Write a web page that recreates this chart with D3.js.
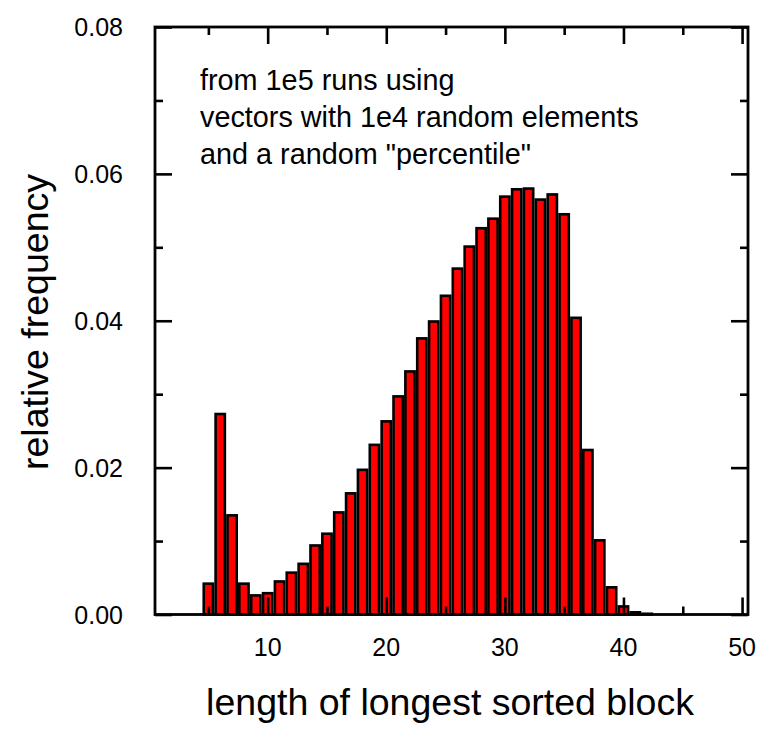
<!DOCTYPE html>
<html>
<head>
<meta charset="utf-8">
<script src="https://cdn.jsdelivr.net/npm/d3@7"></script>
<style>
  html, body { margin: 0; padding: 0; background: #fff; }
  svg text { font-family: "Liberation Sans", Arial, sans-serif; fill: #000; }
</style>
</head>
<body>
<svg id="chart" width="762" height="730"></svg>
<script>
// ---- data ----
const blockLength = [5,6,7,8,9,10,11,12,13,14,15,16,17,18,19,20,21,22,23,24,25,26,27,28,29,30,31,32,33,34,35,36,37,38,39,40,41,42];
const relFrequency = [0.0042,0.0273,0.0135,0.0042,0.0026,0.0029,0.0045,0.0057,0.0069,0.0094,0.0110,0.0139,0.0165,0.0197,0.0231,0.0263,0.0297,0.0331,0.0376,0.0399,0.0434,0.0471,0.0501,0.0526,0.0539,0.0569,0.0579,0.0580,0.0565,0.0572,0.0545,0.0404,0.0224,0.0101,0.0037,0.0011,0.0003,0.0001];
const xMajorTicks = [10,20,30,40,50];
const xMinorTicks = [5,15,25,35,45];
const yMajorTicks = [0.00,0.02,0.04,0.06,0.08];
const yMinorTicks = [0.01,0.03,0.05,0.07];
const xTitle = "length of longest sorted block";
const yTitle = "relative frequency";
const noteLines = ["from 1e5 runs using", "vectors with 1e4 random elements", "and a random \"percentile\""];

// ---- layout ----
const svg = d3.select("#chart");
const L = 155, R = 748, T = 27, B = 614.5;
const x = d3.scaleLinear().domain([0.5, 50.5]).range([L, R]);
const y = d3.scaleLinear().domain([0, 0.08]).range([B, T]);
const barW = 0.78;
const majorLen = 17, minorLen = 8;

// bars
svg.append("g").selectAll("rect")
  .data(blockLength.map((d, i) => ({len: d, f: relFrequency[i]})))
  .join("rect")
  .attr("x", d => x(d.len - barW / 2))
  .attr("width", d => x(d.len + barW / 2) - x(d.len - barW / 2))
  .attr("y", d => y(d.f))
  .attr("height", d => y(0) - y(d.f))
  .attr("fill", "#ff0000")
  .attr("stroke", "#000")
  .attr("stroke-width", 2.6);

// inward ticks using d3 axes
function axisG(axisFn, tx, ty) {
  const g = svg.append("g").attr("transform", `translate(${tx},${ty})`).call(axisFn);
  g.select(".domain").remove();
  g.selectAll("line").attr("stroke", "#000").attr("stroke-width", 2.6);
  return g;
}
// bottom
axisG(d3.axisTop(x).tickValues(xMajorTicks).tickSize(majorLen).tickFormat(""), 0, B);
axisG(d3.axisTop(x).tickValues(xMinorTicks).tickSize(minorLen).tickFormat(""), 0, B);
// top
axisG(d3.axisBottom(x).tickValues(xMajorTicks).tickSize(majorLen).tickFormat(""), 0, T);
axisG(d3.axisBottom(x).tickValues(xMinorTicks).tickSize(minorLen).tickFormat(""), 0, T);
// left
axisG(d3.axisRight(y).tickValues(yMajorTicks).tickSize(majorLen).tickFormat(""), L, 0);
axisG(d3.axisRight(y).tickValues(yMinorTicks).tickSize(minorLen).tickFormat(""), L, 0);
// right
axisG(d3.axisLeft(y).tickValues(yMajorTicks).tickSize(majorLen).tickFormat(""), R, 0);
axisG(d3.axisLeft(y).tickValues(yMinorTicks).tickSize(minorLen).tickFormat(""), R, 0);

// frame
svg.append("rect")
  .attr("x", L).attr("y", T).attr("width", R - L).attr("height", B - T)
  .attr("fill", "none").attr("stroke", "#000").attr("stroke-width", 2.8);

// tick labels
svg.append("g").selectAll("text").data(xMajorTicks).join("text")
  .attr("x", d => x(d)).attr("y", 656)
  .attr("text-anchor", "middle").attr("font-size", 25)
  .text(d => d);
svg.append("g").selectAll("text").data(yMajorTicks).join("text")
  .attr("x", 123).attr("y", d => y(d) + 9)
  .attr("text-anchor", "end").attr("font-size", 25)
  .text(d => d3.format(".2f")(d));

// titles
svg.append("text").attr("x", 450).attr("y", 715)
  .attr("text-anchor", "middle").attr("font-size", 37.5).text(xTitle);
svg.append("text").attr("transform", `translate(48,${322}) rotate(-90)`)
  .attr("text-anchor", "middle").attr("font-size", 37.5).text(yTitle);

// note
svg.append("g").selectAll("text").data(noteLines).join("text")
  .attr("x", 200).attr("y", (d, i) => 90 + i * 37)
  .attr("font-size", 28.8).text(d => d);
</script>
</body>
</html>
